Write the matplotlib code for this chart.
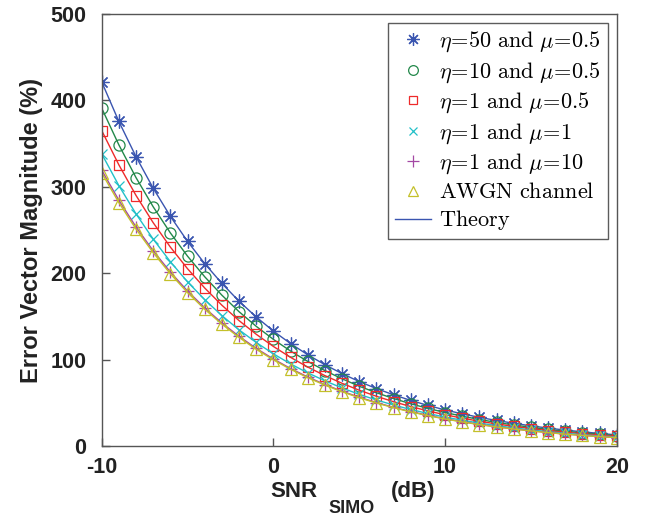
import matplotlib
matplotlib.use("Agg")
import matplotlib.pyplot as plt
from matplotlib.lines import Line2D

plt.rcParams['mathtext.fontset'] = 'cm'
plt.rcParams['axes.unicode_minus'] = False

snr_db = list(range(-10, 21))

evm_eta50_mu05 = [421.5, 375.7, 334.9, 298.5, 266.0, 237.0, 211.3, 188.4, 167.8, 149.6,
                  133.3, 118.8, 105.9, 94.4, 84.1, 74.9, 66.8, 59.6, 53.1, 47.3,
                  42.1, 37.6, 33.5, 29.9, 26.7, 23.7, 21.1, 18.8, 16.8, 14.9, 13.3]
evm_eta10_mu05 = [391.1, 348.6, 310.7, 277.0, 246.8, 219.9, 196.1, 174.8, 155.7, 138.8,
                  123.7, 110.2, 98.2, 87.6, 78.1, 69.5, 62.0, 55.3, 49.2, 43.9,
                  39.1, 34.9, 31.0, 27.7, 24.7, 22.0, 19.5, 17.4, 15.6, 13.9, 12.4]
evm_eta1_mu05 = [365.2, 325.5, 290.1, 258.6, 230.4, 205.4, 183.1, 163.2, 145.4, 129.6,
                 115.5, 102.9, 91.7, 81.8, 72.9, 64.9, 57.9, 51.6, 46.0, 41.0,
                 36.5, 32.6, 29.0, 25.9, 23.1, 20.6, 18.2, 16.3, 14.6, 12.9, 11.6]
evm_eta1_mu1 = [338.3, 301.5, 268.8, 239.6, 213.5, 190.2, 169.6, 151.2, 134.7, 120.1,
                107.0, 95.3, 85.0, 75.8, 67.5, 60.1, 53.6, 47.8, 42.6, 38.0,
                33.8, 30.2, 26.9, 24.0, 21.4, 19.0, 16.9, 15.1, 13.5, 12.0, 10.7]
evm_eta1_mu10 = [319.4, 284.6, 253.7, 226.1, 201.5, 179.6, 160.1, 142.7, 127.2, 113.3,
                 101.0, 90.0, 80.2, 71.5, 63.7, 56.8, 50.6, 45.1, 40.2, 35.9,
                 31.9, 28.5, 25.4, 22.6, 20.2, 18.0, 16.0, 14.2, 12.7, 11.3, 10.1]
evm_awgn = [316.2, 281.8, 251.2, 223.9, 199.5, 177.8, 158.5, 141.3, 125.9, 112.2,
            100.0, 89.1, 79.4, 70.8, 63.1, 56.2, 50.1, 44.7, 39.8, 35.5,
            31.6, 28.2, 25.1, 22.4, 20.0, 17.8, 15.8, 14.1, 12.6, 11.2, 10.0]

labels = [r'$\eta\!=\!50\ \mathrm{and}\ \mu\!=\!0.5$',
          r'$\eta\!=\!10\ \mathrm{and}\ \mu\!=\!0.5$',
          r'$\eta\!=\!1\ \mathrm{and}\ \mu\!=\!0.5$',
          r'$\eta\!=\!1\ \mathrm{and}\ \mu\!=\!1$',
          r'$\eta\!=\!1\ \mathrm{and}\ \mu\!=\!10$',
          r'$\mathrm{AWGN\ channel}$']
theory_label = r'$\mathrm{Theory}$'

series = [evm_eta50_mu05, evm_eta10_mu05, evm_eta1_mu05, evm_eta1_mu1, evm_eta1_mu10, evm_awgn]
colors = ['#3a55b0', '#22884a', '#ee2a2a', '#22c0c8', '#a448a4', '#c4c02a']
markers = [(8, 2, 0), 'o', 's', 'x', '+', '^']
msizes = [10, 8, 7, 7, 9, 8]

fig = plt.figure(figsize=(6.52, 5.19), dpi=100)
ax = fig.add_axes([0.156, 0.140, 0.790, 0.833])

handles = []
for y, c, m, ms, lab in zip(series, colors, markers, msizes, labels):
    ax.plot(snr_db, y, color=c, lw=1.0)
    ax.plot(snr_db, y, linestyle='none', marker=m, markersize=ms,
            markerfacecolor='none', markeredgecolor=c, markeredgewidth=0.9)
    handles.append(Line2D([], [], linestyle='none', marker=m, markersize=ms - 1,
                          markerfacecolor='none', markeredgecolor=c,
                          markeredgewidth=0.9, label=lab))
handles.append(Line2D([], [], color='#3a55b0', lw=1.0, label=theory_label))

ax.set_xlim(-10, 20)
ax.set_ylim(0, 500)
ax.set_xticks([-10, 0, 10, 20])
ax.set_yticks([0, 100, 200, 300, 400, 500])
for s in ax.spines.values():
    s.set_color('#555555')
    s.set_linewidth(1.0)
ax.tick_params(direction='in', length=6, color='#555555', width=1.0,
               top=False, right=False, labelsize=15.5)
ax.tick_params(axis='x', pad=8)
ax.tick_params(axis='y', pad=11)
for t in ax.get_xticklabels() + ax.get_yticklabels():
    t.set_fontfamily('Liberation Sans')
    t.set_fontweight('bold')
    t.set_color('#222222')

ax.set_ylabel('Error Vector Magnitude (%)', fontsize=17, fontweight='bold',
              fontfamily='Liberation Sans', color='#222222', labelpad=5)

# x label composed of main text, lowered subscript and unit
W, H = 652.0, 519.0
lab_kw = dict(fontweight='bold', fontfamily='Liberation Sans', color='#222222',
              va='baseline', ha='left')
fig.text(270 / W, 1 - 497 / H, 'SNR', fontsize=16, **lab_kw)
fig.text(328 / W, 1 - 513 / H, 'SIMO', fontsize=13, **lab_kw)
fig.text(391 / W, 1 - 497 / H, '(dB)', fontsize=16, **lab_kw)

leg = ax.legend(handles=handles, loc='upper right', fontsize=16,
                frameon=True, fancybox=False, edgecolor='#333333',
                labelspacing=0.27, handlelength=1.6, handletextpad=0.4,
                borderpad=0.3, borderaxespad=0.4)
leg.get_frame().set_linewidth(1.0)

fig.savefig('out.png', dpi=100)
